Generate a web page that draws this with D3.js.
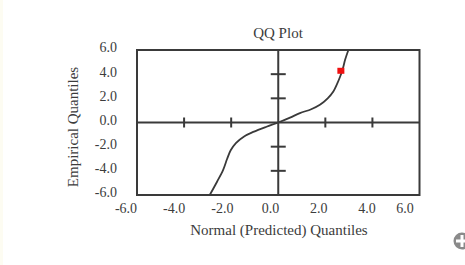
<!DOCTYPE html>
<html><head><meta charset="utf-8">
<script src="https://cdn.jsdelivr.net/npm/d3@7"></script>
<style>html,body{margin:0;padding:0;background:#fff;}svg{display:block;}</style>
</head><body>
<script>
// Data
const qqX = [-2.91,-2.6,-2.34,-2.17,-2.02,-1.8,-1.45,-1.06,-0.5,0,0.5,0.92,1.4,1.77,2.1,2.34,2.5,2.63,2.75,2.84,2.98];
const qqY = [-6.0,-4.9,-3.92,-3.0,-2.3,-1.7,-1.15,-0.78,-0.35,0,0.4,0.78,1.1,1.47,2.0,2.57,3.2,3.81,4.5,5.19,6.0];
const highlightX = [2.66];
const highlightY = [4.28];
const xTicks = [-6,-4,-2,0,2,4,6];
const yTicks = [-6,-4,-2,0,2,4,6];
const innerTicks = [-4,-2,2,4];

const W = 465, H = 265;
const svg = d3.select("body").append("svg").attr("width", W).attr("height", H);
svg.append("rect").attr("width", W).attr("height", H).attr("fill", "#fff");
svg.append("rect").attr("x",0).attr("y",0).attr("width",3).attr("height",H).attr("fill","#fdfcf2");

const x = d3.scaleLinear().domain([-6,6]).range([137,419.5]);
const y = d3.scaleLinear().domain([-6,6]).range([195,50]);
const xLab = d3.scaleLinear().domain([-6,4,6]).range([126,367,405]);

const font = "'Liberation Serif','Times New Roman',serif";
const col = "#3a3a3a";
const tcol = "#3c3c3c";

// frame
svg.append("rect").attr("x", x(-6)).attr("y", y(6)).attr("width", x(6)-x(-6)).attr("height", y(-6)-y(6))
  .attr("fill","none").attr("stroke", col).attr("stroke-width", 2);

// axes through origin
svg.append("line").attr("x1", x(-6)).attr("x2", x(6)).attr("y1", y(0)).attr("y2", y(0)).attr("stroke", col).attr("stroke-width", 2);
svg.append("line").attr("x1", x(0)).attr("x2", x(0)).attr("y1", y(-6)).attr("y2", y(6)).attr("stroke", col).attr("stroke-width", 2);

// ticks on axes
svg.selectAll(".xt").data(innerTicks).join("line")
  .attr("x1", d=>x(d)).attr("x2", d=>x(d)).attr("y1", y(0)-5).attr("y2", y(0)+5)
  .attr("stroke", col).attr("stroke-width", 2);
svg.selectAll(".yt").data(innerTicks).join("line")
  .attr("y1", d=>y(d)).attr("y2", d=>y(d)).attr("x1", x(0)-7.5).attr("x2", x(0)+7.5)
  .attr("stroke", col).attr("stroke-width", 2);

// tick labels
svg.selectAll(".xl").data(xTicks).join("text")
  .attr("x", d=>xLab(d)).attr("y", 213).attr("text-anchor","middle")
  .attr("font-family", font).attr("font-size", 14).attr("fill", tcol)
  .text(d=>d3.format(".1f")(d).replace("−","-"));
svg.selectAll(".yl").data(yTicks).join("text")
  .attr("x", 117).attr("y", d=>y(d)-2.5).attr("dy","0.35em").attr("text-anchor","end")
  .attr("font-family", font).attr("font-size", 14).attr("fill", tcol)
  .text(d=>d3.format(".1f")(d).replace("−","-"));

// titles
svg.append("text").attr("x", 278).attr("y", 38).attr("text-anchor","middle")
  .attr("font-family", font).attr("font-size", 15).attr("fill",tcol).text("QQ Plot");
svg.append("text").attr("x", 279).attr("y", 235).attr("text-anchor","middle")
  .attr("font-family", font).attr("font-size", 15).attr("fill",tcol).text("Normal (Predicted) Quantiles");
svg.append("text").attr("transform","translate(78,127) rotate(-90)").attr("text-anchor","middle")
  .attr("font-family", font).attr("font-size", 15).attr("fill",tcol).text("Empirical Quantiles");

// curve
const pts = qqX.map((v,i)=>[v, qqY[i]]);
const line = d3.line().x(d=>x(d[0])).y(d=>y(d[1])).curve(d3.curveCatmullRom);
svg.append("path").attr("d", line(pts)).attr("fill","none").attr("stroke", col).attr("stroke-width", 1.8);

// highlighted point
svg.selectAll(".hp").data(highlightX).join("rect")
  .attr("x", (d)=>x(d)-3.5).attr("y", (d,i)=>y(highlightY[i])-3).attr("width",7).attr("height",6)
  .attr("fill","#f01010");

// corner icon (partially visible)
svg.append("circle").attr("cx", 462).attr("cy", 241).attr("r", 8.5).attr("fill","#8a8a8a");
svg.append("rect").attr("x", 456).attr("y", 239.5).attr("width", 10).attr("height", 3).attr("fill","#fff");
svg.append("rect").attr("x", 460.5).attr("y", 235).attr("width", 3).attr("height", 12).attr("fill","#fff");
</script>
</body></html>
